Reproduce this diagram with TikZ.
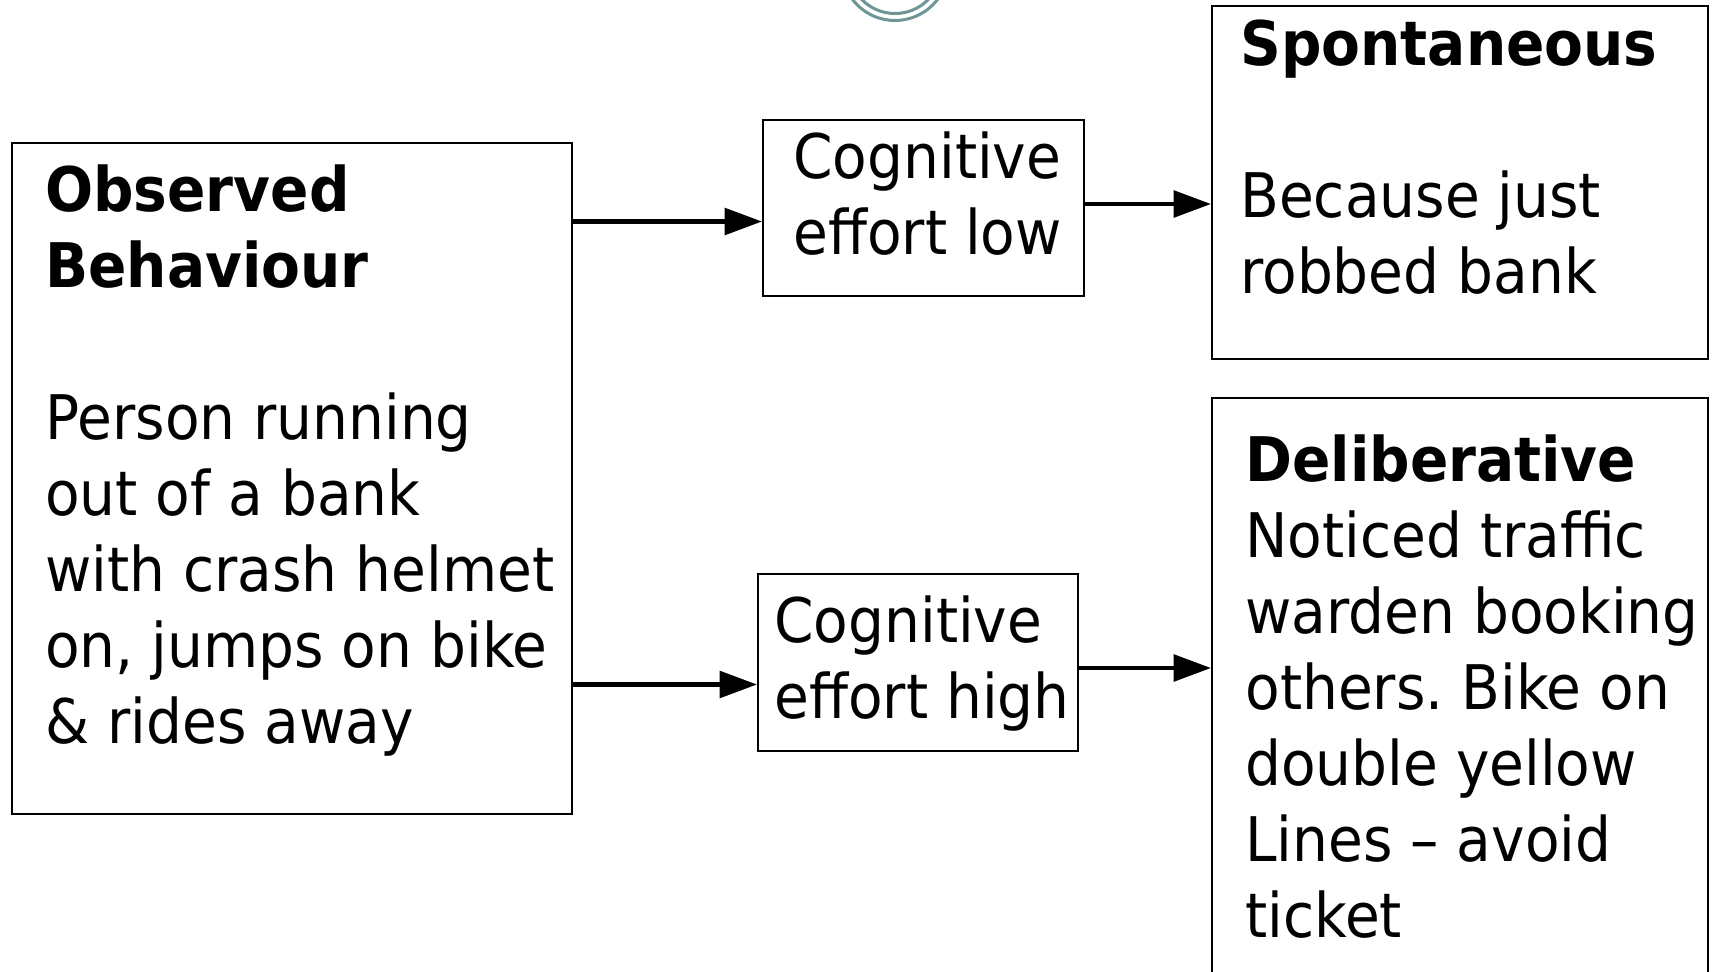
\documentclass[tikz,border=0pt]{standalone}
\usepackage{fontspec}
\setmainfont{DejaVu Sans}[FakeStretch=0.92]
\usepackage{tikz}
\usetikzlibrary{positioning,arrows.meta}
\definecolor{RingGrey}{RGB}{110,150,150}
\frenchspacing

\begin{document}
\begin{tikzpicture}[
panel/.style={draw=black, line width=0.04cm, inner sep=0pt, anchor=north west},
body/.style={inner sep=0pt, align=left, font={\fontsize{35}{43.3}\selectfont}},
arrow/.style={-{Triangle[length=0.75cm, width=0.53cm]}, line width=0.09cm, black},
ring/.style={draw=RingGrey, line width=0.06cm}
]
\useasboundingbox (0,0) rectangle (34.24,-19.42);
% ring cut by the top edge
\draw[ring] (17.9,0.66) circle[radius=1.07];
\draw[ring] (17.9,0.66) circle[radius=0.93];
% boxes
\node[panel, minimum width=11.2cm, minimum height=13.42cm] (obs) at (0.22,-2.84) {};
\node[panel, minimum width=6.42cm, minimum height=3.52cm] (low) at (15.24,-2.38) {};
\node[panel, minimum width=9.92cm, minimum height=7.06cm] (spont) at (24.22,-0.10) {};
\node[panel, minimum width=6.40cm, minimum height=3.54cm] (high) at (15.14,-11.46) {};
\node[panel, minimum width=9.92cm, minimum height=12.2cm] (delib) at (24.22,-7.94) {};
% texts
\node[body, below right=0.44cm and 0.68cm of obs.north west] (obsText) {\textbf{Observed}\\\textbf{Behaviour}\\[1.52cm]Person running\\out of a bank\\with crash helmet\\on, jumps on bike\\\& rides away};
\node[body, below right=0.25cm and 0.62cm of low.north west] (lowText) {Cognitive\\effort low};
\node[body, below right=0.29cm and 0.58cm of spont.north west] (spontText) {\textbf{Spontaneous}\\[1.52cm]Because just\\robbed bank};
\node[body, below right=0.45cm and 0.34cm of high.north west] (highText) {Cognitive\\effort high};
\node[body, below right=0.74cm and 0.68cm of delib.north west] (delibText) {\textbf{Deliberative}\\Noticed traffic\\warden booking\\others. Bike on\\double yellow\\Lines -- avoid\\ticket};
% arrows
\coordinate (lowIn) at (0,-4.43);
\coordinate (spontIn) at (0,-4.08);
\coordinate (highIn) at (0,-13.69);
\coordinate (delibIn) at (0,-13.36);
\draw[arrow] (obs.east |- lowIn) -- (low.west |- lowIn);
\draw[arrow] (low.east |- spontIn) -- (spont.west |- spontIn);
\draw[arrow] (obs.east |- highIn) -- (high.west |- highIn);
\draw[arrow] (high.east |- delibIn) -- (delib.west |- delibIn);
\end{tikzpicture}
\end{document}
